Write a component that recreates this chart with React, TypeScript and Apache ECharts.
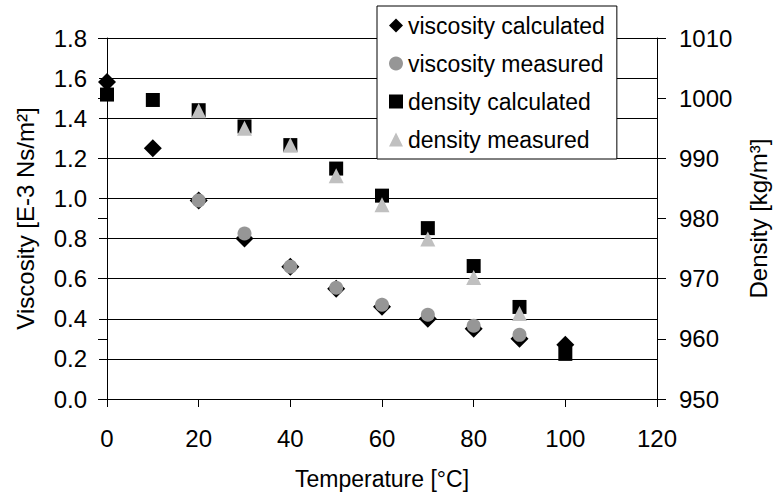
import React, { useEffect, useRef } from "react";
import * as echarts from "echarts";

const temperatures = [0, 10, 20, 30, 40, 50, 60, 70, 80, 90, 100];
const viscosityCalculated = [1.58, 1.25, 0.99, 0.8, 0.66, 0.55, 0.46, 0.4, 0.35, 0.3, 0.27];
const measuredTemps = [20, 30, 40, 50, 60, 70, 80, 90];
const viscosityMeasured = [0.99, 0.825, 0.66, 0.555, 0.47, 0.42, 0.365, 0.32];
const densityCalculated = [1000.6, 999.7, 998.0, 995.3, 992.2, 988.3, 983.8, 978.4, 972.1, 965.3, 957.5];
const densityMeasured = [997.9, 995.0, 992.2, 987.1, 982.3, 976.6, 970.2, 964.2];

const FONT = "'Liberation Sans', Arial, sans-serif";

export default function App() {
  const ref = useRef<HTMLDivElement>(null);
  useEffect(() => {
    if (!ref.current) return;
    const chart = echarts.init(ref.current, null, { renderer: "svg" });
    const pair = (xs: number[], ys: number[]) => xs.map((x, i) => [x, ys[i]]);
    const axisText = { color: "#000", fontFamily: FONT, fontSize: 24 };
    chart.setOption({
      animation: false,
      backgroundColor: "#fff",
      textStyle: { fontFamily: FONT, color: "#000" },
      grid: { left: 107, right: 114, top: 38, bottom: 96, containLabel: false },
      legend: {
        orient: "vertical",
        left: 377,
        top: 6,
        padding: [7, 12, 7, 12],
        itemWidth: 14,
        itemHeight: 14,
        itemGap: 13,
        backgroundColor: "#fff",
        borderColor: "#000",
        borderWidth: 1,
        textStyle: { fontFamily: FONT, fontSize: 23, color: "#000", lineHeight: 25 },
        data: [
          { name: "viscosity calculated", icon: "diamond" },
          { name: "viscosity measured", icon: "circle" },
          { name: "density calculated", icon: "rect" },
          { name: "density measured", icon: "triangle" },
        ],
      },
      xAxis: {
        type: "value",
        min: 0,
        max: 120,
        interval: 20,
        name: "Temperature [°C]",
        nameLocation: "middle",
        nameGap: 68,
        nameTextStyle: { ...axisText, fontSize: 23 },
        axisLine: { onZero: false, lineStyle: { color: "#000", width: 1 } },
        axisTick: { show: true, inside: false, length: 8, lineStyle: { color: "#000" } },
        axisLabel: { ...axisText, margin: 27 },
        splitLine: { show: false },
      },
      yAxis: [
        {
          type: "value",
          min: 0,
          max: 1.8,
          interval: 0.2,
          position: "left",
          name: "Viscosity [E-3 Ns/m²]",
          nameLocation: "middle",
          nameGap: 70,
          nameRotate: 90,
          nameTextStyle: { ...axisText, fontSize: 24 },
          axisLine: { show: true, onZero: false, lineStyle: { color: "#000", width: 1 } },
          axisTick: { show: true, inside: false, length: 8, lineStyle: { color: "#000" } },
          axisLabel: { ...axisText, margin: 20, formatter: (v: number) => v.toFixed(1) },
          splitLine: { show: true, lineStyle: { color: "#000", width: 1 } },
        },
        {
          type: "value",
          min: 950,
          max: 1010,
          interval: 10,
          position: "right",
          name: "Density [kg/m³]",
          nameLocation: "middle",
          nameGap: 89,
          nameRotate: 90,
          nameTextStyle: { ...axisText, fontSize: 24 },
          axisLine: { show: true, onZero: false, lineStyle: { color: "#000", width: 1 } },
          axisTick: { show: true, inside: false, length: 9, lineStyle: { color: "#000" } },
          axisLabel: { ...axisText, margin: 22, formatter: (v: number) => String(v) },
          splitLine: { show: false },
        },
        {
          type: "value",
          min: 950,
          max: 1010,
          interval: 10,
          position: "right",
          axisLine: { show: false },
          axisTick: { show: true, inside: true, length: 9, lineStyle: { color: "#000" } },
          axisLabel: { show: false },
          splitLine: { show: false },
        },
      ],
      series: [
        {
          name: "viscosity calculated",
          type: "scatter",
          yAxisIndex: 0,
          symbol: "diamond",
          symbolSize: 18,
          itemStyle: { color: "#000", opacity: 1 },
          data: pair(temperatures, viscosityCalculated),
        },
        {
          name: "viscosity measured",
          type: "scatter",
          yAxisIndex: 0,
          symbol: "circle",
          symbolSize: 14,
          itemStyle: { color: "#969696", opacity: 1 },
          data: pair(measuredTemps, viscosityMeasured),
        },
        {
          name: "density calculated",
          type: "scatter",
          yAxisIndex: 1,
          symbol: "rect",
          symbolSize: 14,
          itemStyle: { color: "#000", opacity: 1 },
          data: pair(temperatures, densityCalculated),
        },
        {
          name: "density measured",
          type: "scatter",
          yAxisIndex: 1,
          symbol: "triangle",
          symbolSize: 15,
          itemStyle: { color: "#c0c0c0", opacity: 1 },
          data: pair(measuredTemps, densityMeasured),
        },
      ],
    });
    return () => chart.dispose();
  }, []);
  return <div ref={ref} style={{ width: 778, height: 495, position: "absolute", left: 0, top: 0 }} />;
}
